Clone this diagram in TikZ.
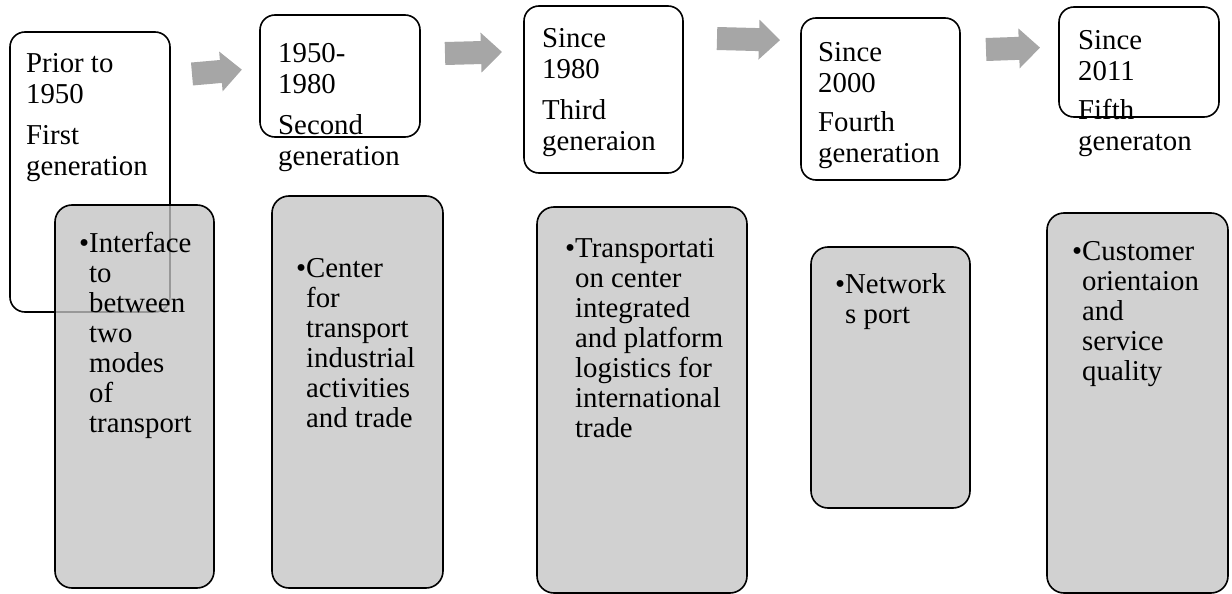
\documentclass[tikz,border=0pt]{standalone}
\usepackage{fontspec}
\setmainfont{Liberation Serif}
\definecolor{boxgray}{RGB}{196,196,196}
\definecolor{arrowgray}{RGB}{166,166,166}
\tikzset{
  era/.style={draw=black, line width=1.6pt, fill=white, rounded corners=15pt,
    anchor=north west, inner sep=0pt, outer sep=0pt},
  role/.style={draw=black, line width=1.6pt, fill=boxgray, fill opacity=0.78,
    rounded corners=17pt, anchor=north west, inner sep=0pt, outer sep=0pt},
  % texts are placed by the baseline of their last line
  eratext/.style={inner sep=0pt, align=left, anchor=base west,
    font=\fontsize{28.8}{30.5}\selectfont},
  roletext/.style={inner sep=0pt, align=left, anchor=base west,
    font=\fontsize{28.8}{30}\selectfont},
  flowarrow/.style={fill=arrowgray, draw=none}
}
% block arrow: tail centre, angle, total length
\newcommand\blockarrow[4]{%
  \begin{scope}[shift={(#1,#2)}, rotate=#3]
    \fill[flowarrow] (0,-11.5) -- (#4-21,-11.5) -- (#4-21,-20) -- (#4,0)
      -- (#4-21,20) -- (#4-21,11.5) -- (0,11.5) -- cycle;
  \end{scope}}
\begin{document}
\begin{tikzpicture}[x=1pt, y=-1pt]
\useasboundingbox (0,0) rectangle (1232,594);

% generation boxes
\node[era, minimum width=160pt, minimum height=280pt] (w1) at (10,32) {};
\node[era, minimum width=160pt, minimum height=122pt] (w2) at (260,15) {};
\node[era, minimum width=159pt, minimum height=167pt] (w3) at (524,6) {};
\node[era, minimum width=159pt, minimum height=162pt] (w4) at (801,18) {};
\node[era, minimum width=160pt, minimum height=110pt] (w5) at (1059,7) {};

\node[eratext] (t1) at (26,175)   {Prior to\\1950\\[11pt]First\\generation};
\node[eratext] (t2) at (278,165)  {1950-\\1980\\[11pt]Second\\generation};
\node[eratext] (t3) at (542,150)  {Since\\1980\\[11pt]Third\\generaion};
\node[eratext] (t4) at (818,162)  {Since\\2000\\[9pt]Fourth\\generation};
\node[eratext] (t5) at (1078,150) {Since\\2011\\[9pt]Fifth\\generaton};

% role boxes
\node[role, minimum width=159pt, minimum height=383pt] (g1) at (55,205) {};
\node[role, minimum width=171pt, minimum height=392pt] (g2) at (272,196) {};
\node[role, minimum width=210pt, minimum height=386pt] (g3) at (537,207) {};
\node[role, minimum width=159pt, minimum height=261pt] (g4) at (811,247) {};
\node[role, minimum width=181pt, minimum height=380pt] (g5) at (1047,213) {};

\node[roletext] (r1) at (89,432)
  {\llap{•}Interface\\to\\between\\two\\modes\\of\\transport};
\node[roletext] (r2) at (306,427)
  {\llap{•}Center\\for\\transport\\industrial\\activities\\and trade};
\node[roletext] (r3) at (575,437)
  {\llap{•}Transportati\\on center\\integrated\\and platform\\logistics for\\international\\trade};
\node[roletext] (r4) at (845,323) {\llap{•}Network\\s port};
\node[roletext] (r5) at (1082,380)
  {\llap{•}Customer\\orientaion\\and\\service\\quality};

% arrows between the eras
\blockarrow{192}{74}{5}{50}
\blockarrow{445}{53.5}{1.5}{57}
\blockarrow{717}{38.5}{-1.5}{63}
\blockarrow{986}{49.5}{2}{54}
\end{tikzpicture}
\end{document}
